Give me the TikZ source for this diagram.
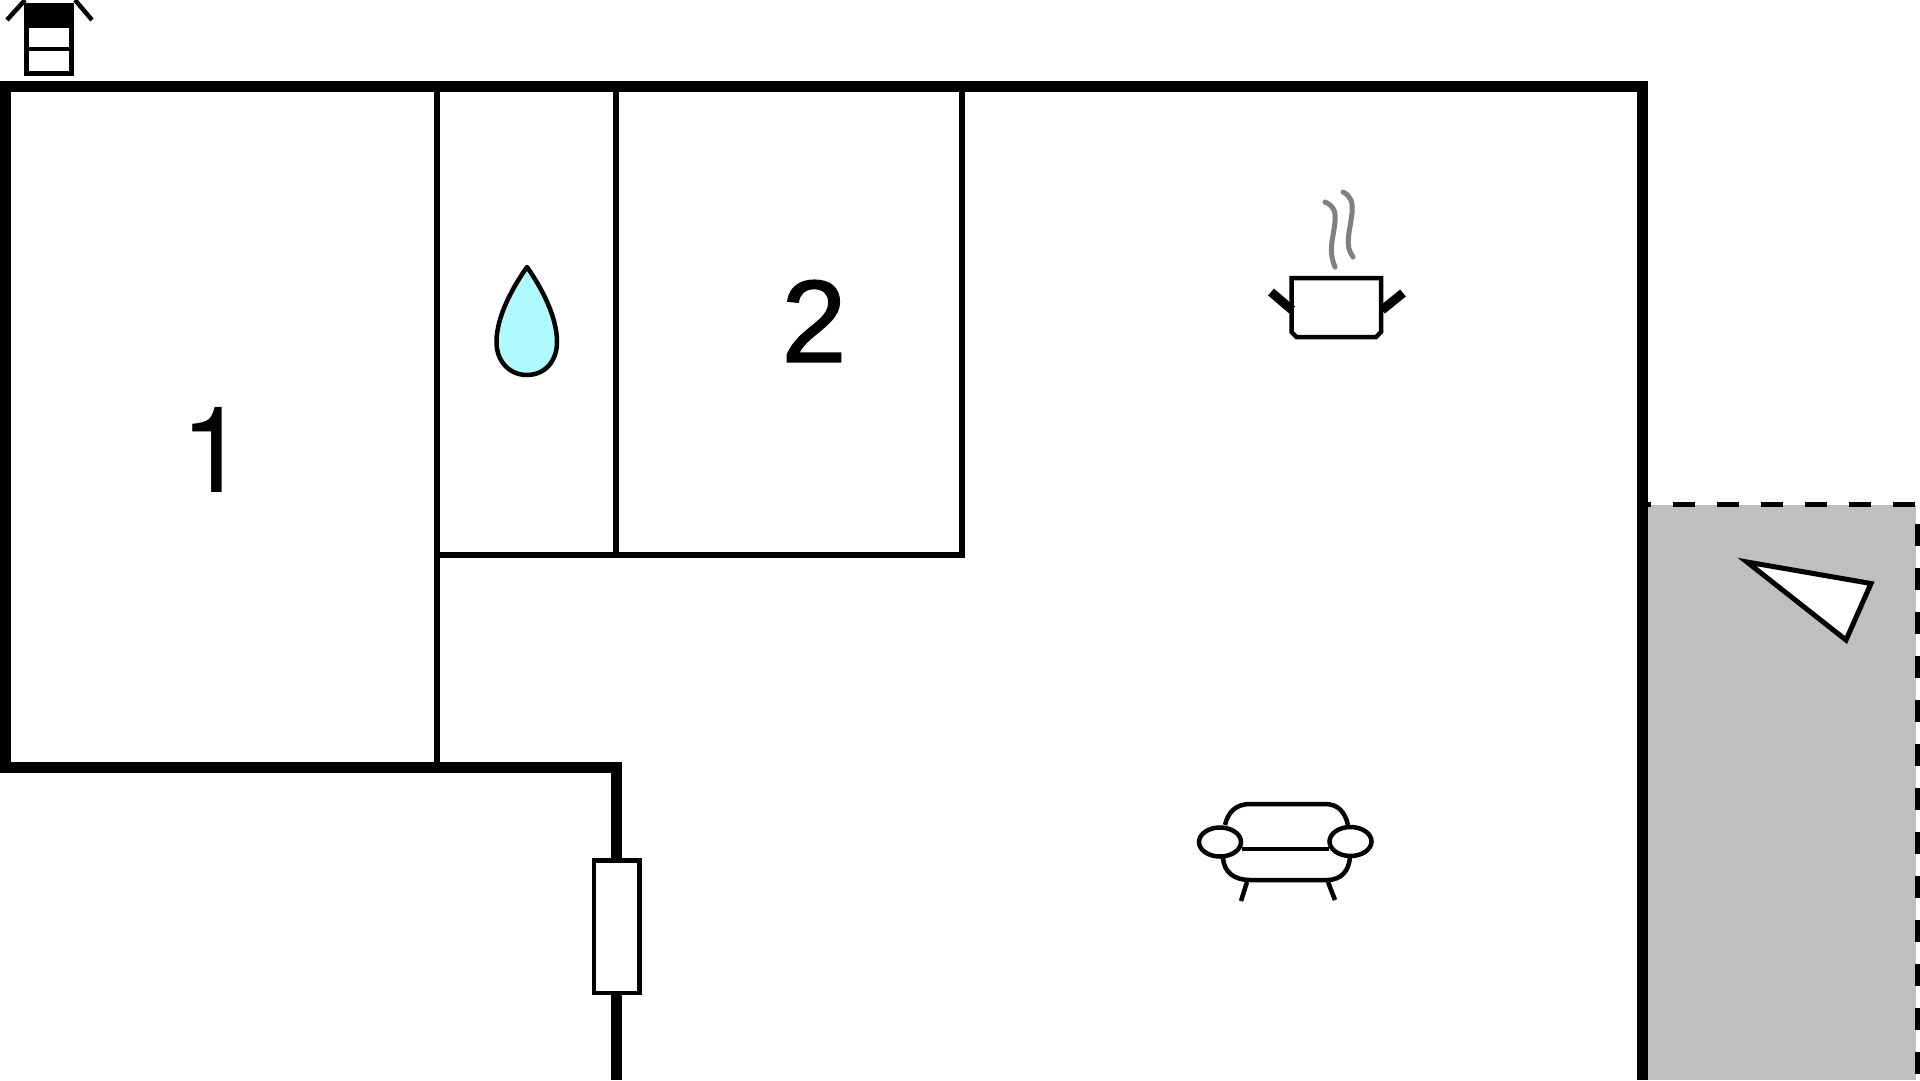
\documentclass[tikz,border=0pt]{standalone}
\usepackage{fontspec}
\setmainfont{Liberation Sans}
\newfontfamily\onefont{TeX Gyre Heros}
\newfontfamily\twofont[FakeBold=1.2]{Liberation Sans}
\definecolor{dropblue}{RGB}{174,250,255}
\tikzset{
    px/.style={x=1pt,y=-1pt},
    outerwall/.style={draw=black, line width=11pt},
    innerwall/.style={draw=black, line width=5.5pt},
    iconline/.style={draw=black, line width=4.5pt},
    steamline/.style={draw=black!50, line width=5pt, line cap=round},
    roomnumber/.style={inner sep=0pt},
}
\begin{document}
\begin{tikzpicture}[px]
    \useasboundingbox (0,0) rectangle (1920,1080);

    % terrace
    \fill[black!25] (1647,504.5) rectangle (1916,1080);
    \draw[line width=5.5pt, dash pattern=on 22pt off 22pt, dash phase=11pt] (1640,504.5) -- (1916,504.5);
    \draw[line width=10pt, dash pattern=on 22pt off 22pt] (1920,524) -- (1920,1080);

    % door
    \node[draw, line width=4.5pt, fill=white, minimum width=45.5pt, minimum height=132.5pt, inner sep=0pt] (door) at (616.5,926.5) {};

    % walls
    \draw[outerwall] (5.5,767.5) -- (5.5,86.5) -- (1642,86.5) -- (1642,1080);
    \draw[outerwall] (0,767.5) -- (616.5,767.5) -- (door.north);
    \draw[outerwall] (door.south) -- (616.5,1080);
    \draw[innerwall] (437,86.5) -- (437,767.5);
    \draw[innerwall] (616,86.5) -- (616,555);
    \draw[innerwall] (962,86.5) -- (962,555);
    \draw[innerwall, line cap=rect] (437,555) -- (962,555);

    % room numbers
    \node[roomnumber, font=\fontsize{120}{120}\selectfont\onefont] (room1) at (214,450) {1};
    \node[roomnumber, font=\fontsize{117}{117}\selectfont\twofont] (room2) at (814,321) {2};

    % water drop
    \draw[iconline, fill=dropblue, line join=round] (527,267) .. controls (513,287) and (496.5,316) .. (496.5,342) .. controls (496.5,362) and (510,375) .. (527,375) .. controls (544,375) and (557,362) .. (557,342) .. controls (557,316) and (541,287) .. (527,267) -- cycle;

    % stove pot
    \draw[iconline] (1291.5,278) -- (1381,278) -- (1381,332) -- (1376,337) -- (1296.5,337) -- (1291.5,332) -- cycle;
    \draw[line width=9pt] (1292,310) -- (1271,292);
    \draw[line width=9pt] (1382,310) -- (1403,293);
    \draw[steamline] (1325,202) .. controls (1334,206) and (1336,212) .. (1335,222) .. controls (1333,240) and (1328,250) .. (1335,267);
    \draw[steamline] (1343,192) .. controls (1351,196) and (1353,202) .. (1352,213) .. controls (1350,232) and (1344,245) .. (1353,257);

    % sofa
    \draw[iconline] (1225,825) .. controls (1228,812) and (1236,804) .. (1250,804) -- (1325,804) .. controls (1338,804) and (1345,812) .. (1348,825);
    \draw[iconline] (1223,858) .. controls (1224,872) and (1234,880) .. (1250,880) -- (1327,880) .. controls (1342,880) and (1349,870) .. (1350,857);
    \draw[iconline] (1242,849) -- (1329,849);
    \draw[iconline] (1220,842) ellipse (21pt and 14.5pt);
    \draw[iconline] (1350.5,841.5) ellipse (21pt and 14.5pt);
    \draw[iconline] (1247,882) -- (1241,901);
    \draw[iconline] (1328,882) -- (1335,900);

    % north arrow
    \draw[line width=5pt, fill=white] (1747,562) -- (1871,583.5) -- (1846,640) -- cycle;

    % ladder mark
    \draw[line width=5pt, fill=white] (26.5,5) rectangle (71.5,73.5);
    \fill (24,3) rectangle (74,28);
    \draw[line width=4.5pt] (26.5,49) -- (71.5,49);
    \draw[line width=4.5pt] (7,20) -- (25,0);
    \draw[line width=4.5pt] (92,20) -- (75,0);
\end{tikzpicture}
\end{document}
